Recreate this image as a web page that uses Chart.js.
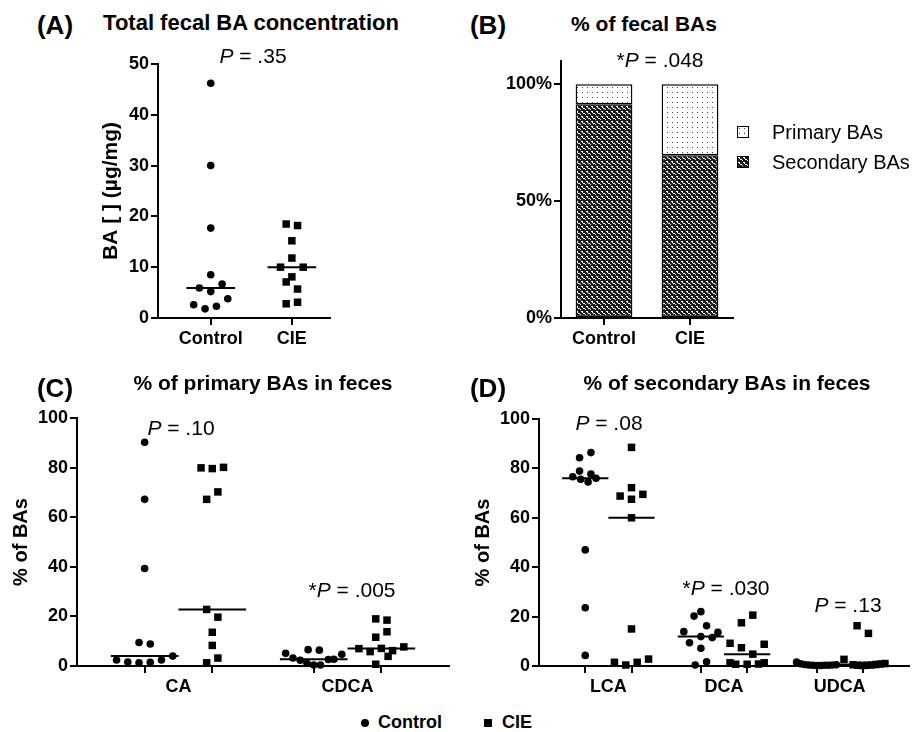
<!DOCTYPE html>
<html><head><meta charset="utf-8">
<script src="https://cdn.jsdelivr.net/npm/chart.js@4.4.1/dist/chart.umd.min.js"></script>
<style>
body{margin:0;background:#fff;width:921px;height:732px;position:relative;overflow:hidden;font-family:"Liberation Sans",Arial,sans-serif;color:#000}
canvas{position:absolute}
.t{position:absolute;white-space:nowrap;transform:translate(-50%,-50%);line-height:1}
.l{position:absolute;white-space:nowrap;transform:translate(0,-50%);line-height:1}
.lbl{font-weight:bold;font-size:26px}
.ttl{font-weight:bold;font-size:21px}
.p{font-size:21px}
.sw{position:absolute;width:12px;height:12px;box-sizing:border-box}
</style></head><body>
<canvas id="cA" width="260" height="320" style="left:90px;top:40px"></canvas>
<canvas id="cB" width="300" height="320" style="left:480px;top:40px"></canvas>
<canvas id="cC" width="460" height="310" style="left:0px;top:390px"></canvas>
<canvas id="cD" width="461" height="310" style="left:460px;top:390px"></canvas>

<div class="t lbl" style="left:55px;top:25px">(A)</div>
<div class="t ttl" style="left:251px;top:23px;font-size:22px">Total fecal BA concentration</div>
<div class="t p" style="left:253px;top:55px"><i>P</i> = .35</div>

<div class="t lbl" style="left:488px;top:25px">(B)</div>
<div class="t ttl" style="left:644px;top:23px">% of fecal BAs</div>
<div class="t p" style="left:660px;top:59px">*<i>P</i> = .048</div>
<canvas class="sw" id="swP" width="12" height="12" style="left:737px;top:126px"></canvas>
<div class="l" style="left:772px;top:132px;font-size:20px">Primary BAs</div>
<canvas class="sw" id="swS" width="12" height="12" style="left:737px;top:156px"></canvas>
<div class="l" style="left:772px;top:162px;font-size:20px">Secondary BAs</div>

<div class="t lbl" style="left:55px;top:388px">(C)</div>
<div class="t ttl" style="left:263px;top:382px">% of primary BAs in feces</div>
<div class="t p" style="left:181px;top:427px"><i>P</i> = .10</div>
<div class="t p" style="left:352px;top:589px">*<i>P</i> = .005</div>

<div class="t lbl" style="left:488px;top:388px">(D)</div>
<div class="t ttl" style="left:727px;top:382px">% of secondary BAs in feces</div>
<div class="t p" style="left:609px;top:422px"><i>P</i> = .08</div>
<div class="t p" style="left:726px;top:587px">*<i>P</i> = .030</div>
<div class="t p" style="left:848px;top:604px"><i>P</i> = .13</div>

<div style="position:absolute;left:361px;top:719px;width:8px;height:8px;border-radius:50%;background:#000"></div>
<div class="l" style="left:378px;top:722px;font-size:18px;font-weight:bold">Control</div>
<div style="position:absolute;left:484px;top:719px;width:8px;height:8px;background:#000"></div>
<div class="l" style="left:502px;top:722px;font-size:18px;font-weight:bold">CIE</div>

<script>
// ---------- DATA ----------
// Panel A: total fecal BA concentration (µg/mg)
const aLabels = ['Control', 'CIE'];
const aControl = [46.2, 30.0, 17.7, 8.5, 6.7, 5.9, 5.2, 3.8, 2.6, 2.3, 1.8];
const aCIE     = [18.5, 18.2, 15.2, 11.8, 10.0, 10.0, 8.1, 7.1, 5.7, 3.1, 2.8];
const aYTicks  = [0, 10, 20, 30, 40, 50];

// Panel B: % of fecal BAs
const bLabels    = ['Control', 'CIE'];
const bSecondary = [91.5, 69.7];
const bPrimary   = [8.5, 30.3];
const bYTicks    = [0, 50, 100];

// Panel C: % of primary BAs
const cLabels      = ['CA', 'CDCA'];
const caControl    = [90.2, 67.2, 39.3, 9.5, 8.9, 4.0, 2.4, 2.4, 1.6, 1.5, 1.3];
const caCIE        = [80.1, 79.9, 79.6, 70.2, 67.2, 22.8, 19.7, 13.6, 8.3, 3.2, 1.3];
const cdcaControl  = [6.6, 6.4, 5.1, 4.7, 3.2, 2.7, 2.6, 2.3, 1.1, 0.4, 0.4];
const cdcaCIE      = [19.0, 18.5, 13.8, 11.6, 7.7, 7.1, 7.0, 6.2, 5.8, 3.9, 0.7];
const pctTicks     = [0, 20, 40, 60, 80, 100];

// Panel D: % of secondary BAs
const dLabels      = ['LCA', 'DCA', 'UDCA'];
const lcaControl   = [86.4, 84.3, 78.9, 77.7, 76.6, 76.0, 75.6, 74.5, 47.0, 23.6, 4.3];
const lcaCIE       = [88.5, 72.2, 69.5, 68.8, 67.5, 60.0, 15.0, 2.8, 1.5, 1.5, 0.4];
const dcaControl   = [22.0, 20.2, 16.3, 13.9, 13.6, 11.9, 11.5, 9.4, 7.2, 1.7, 0.4];
const dcaCIE       = [20.6, 17.5, 9.2, 8.8, 7.4, 4.8, 1.3, 1.3, 0.8, 0.7, 0.7];
const udcaControl  = [1.6, 0.9, 0.6, 0.4, 0.3, 0.2, 0.2, 0.3, 0.3, 0.4, 0.5];
const udcaCIE      = [16.3, 13.2, 2.7, 1.0, 0.8, 0.6, 0.4, 0.3, 0.2, 0.3, 0.5];

// dot-plot lane indices (horizontal spread of overlapping points)
const aControlLane    = [0, 0, 0, 0, 2, -2, 0, 3, -3, 1, -1];
const aCIELane        = [-1, 1, 0, 0, -2, 2, 0, -1, 1, 1, -1];
const caControlLane   = [0, 0, 0, -1, 1, 5, -5, 3, -3, 1, -1];
const caCIELane       = [2, -2, 0, 1, -1, -1, 1, 0, 0, 1, -1];
const cdcaControlLane = [-1, 1, -5, 5, -3.7, 3.6, 2.6, -2.4, -1.2, 0, 1.2];
const cdcaCIELane     = [-1, 1, 1, -1, 4, 0, -4, 2, -2, 1.2, -1];
const lcaControlLane  = [1, -1, -1, 1, -2.2, 1.9, -0.8, 0.5, 0, 0, 0];
const lcaCIELane      = [0, 0, 2, -2, 0, 0, 0, 3, -3, 1, -1];
const dcaControlLane  = [0, -1.2, 1, -3, 3, 0, 2, -2, 0, 1, -1];
const dcaCIELane      = [1, -1, -3, 3, -1, 1, -3, 3, 2, -2, 0];
const udcaControlLane = [-3.5, -2.8, -2.1, -1.4, -0.7, 0, 0.7, 1.4, 2.1, 2.8, 3.5];
const udcaCIELane     = [-1, 1, -3.3, 3.9, 3.1, 2.3, 1.5, 0.7, -0.1, -0.9, -1.7];

// ---------- RENDER ----------
const FONT = '"Liberation Sans", Arial, sans-serif';
Chart.defaults.font.family = FONT;
Chart.defaults.color = '#000';

function median(arr) {
  const s = [...arr].sort((a, b) => a - b), n = s.length;
  return n % 2 ? s[(n - 1) / 2] : (s[n / 2 - 1] + s[n / 2]) / 2;
}
function pts(values, lanes, pos, laneW) {
  return values.map((v, i) => ({ x: pos + lanes[i] * laneW, y: v }));
}
function medLine(values, pos, half) {
  const m = median(values);
  return [{ x: pos - half, y: m }, { x: pos + half, y: m }];
}

function axisY(cfg, extra) {
  return Object.assign({
    min: 0, max: cfg.yMax,
    afterFit: s => { s.width = cfg.yWidth; },
    afterBuildTicks: s => { s.ticks = cfg.yTicks.map(v => ({ value: v })); },
    ticks: { padding: 2, font: { size: 18, weight: 'bold' }, callback: cfg.yFmt || (v => v) },
    grid: { drawOnChartArea: false, drawTicks: true, tickLength: 7, lineWidth: 2, color: '#000' },
    border: { color: '#000', width: 2 },
    title: cfg.yTitle ? { display: true, text: cfg.yTitle, font: { size: cfg.yTitleSize || 20, weight: 'bold' }, padding: { top: cfg.yTitlePad, bottom: 0 } } : { display: false }
  }, extra || {});
}

function makeScatter(id, cfg) {
  const datasets = [];
  cfg.groups.forEach(g => {
    datasets.push({ data: pts(g.ctl, g.ctlLane, g.pos[0], cfg.lane), pointStyle: 'circle', pointRadius: 3.8, backgroundColor: '#000', borderColor: '#000', borderWidth: 0, clip: false });
    datasets.push({ data: pts(g.cie, g.cieLane, g.pos[1], cfg.lane), pointStyle: 'rect', pointRadius: 5.3, backgroundColor: '#000', borderColor: '#000', borderWidth: 0, clip: false });
    datasets.push({ data: medLine(g.ctl, g.pos[0], cfg.half), showLine: true, pointRadius: 0, borderColor: '#000', borderWidth: 2, clip: false });
    datasets.push({ data: medLine(g.cie, g.pos[1], cfg.half), showLine: true, pointRadius: 0, borderColor: '#000', borderWidth: 2, clip: false });
  });
  const tickVals = [], labelAt = {};
  cfg.groups.forEach((g, i) => {
    if (cfg.groupLabels) {
      const c = (g.pos[0] + g.pos[1]) / 2;
      tickVals.push(g.pos[0], c, g.pos[1]);
      labelAt[c] = cfg.groupLabels[i];
    } else {
      tickVals.push(g.pos[0], g.pos[1]);
      labelAt[g.pos[0]] = cfg.colLabels[0];
      labelAt[g.pos[1]] = cfg.colLabels[1];
    }
  });
  const isLabelOnly = v => cfg.groupLabels && labelAt[v] !== undefined;
  new Chart(document.getElementById(id), {
    type: 'scatter',
    data: { datasets },
    options: {
      responsive: false, animation: false, devicePixelRatio: 1,
      layout: { padding: cfg.padding },
      plugins: { legend: { display: false }, tooltip: { enabled: false } },
      scales: {
        x: {
          type: 'linear', min: cfg.xMin, max: cfg.xMax,
          afterFit: s => { s.height = cfg.xHeight; },
          afterBuildTicks: s => { s.ticks = tickVals.map(v => ({ value: v })); },
          ticks: { autoSkip: false, maxRotation: 0, minRotation: 0, padding: 3, font: { size: 18, weight: 'bold' },
                   callback: v => labelAt[v] !== undefined ? labelAt[v] : '' },
          grid: { drawOnChartArea: false, drawTicks: true, tickLength: 7, lineWidth: 2,
                  color: ctx => (ctx.tick && isLabelOnly(ctx.tick.value)) ? 'rgba(0,0,0,0)' : '#000' },
          border: { color: '#000', width: 2 }
        },
        y: axisY(cfg)
      }
    }
  });
}

// Panel A
makeScatter('cA', {
  groups: [{ pos: [1, 2], ctl: aControl, ctlLane: aControlLane, cie: aCIE, cieLane: aCIELane }],
  colLabels: aLabels, lane: 0.07, half: 0.3,
  xMin: 0.35, xMax: 2.47, yMax: 50, yTicks: aYTicks,
  yWidth: 68, xHeight: 42, padding: { top: 24, right: 20, left: 0, bottom: 0 },
  yTitle: 'BA [ ] (\u00b5g/mg)', yTitlePad: 9, yTitleSize: 21
});

// Panel C
makeScatter('cC', {
  groups: [
    { pos: [1, 2], ctl: caControl, ctlLane: caControlLane, cie: caCIE, cieLane: caCIELane },
    { pos: [3.5, 4.5], ctl: cdcaControl, ctlLane: cdcaControlLane, cie: cdcaCIE, cieLane: cdcaCIELane }
  ],
  groupLabels: cLabels, lane: 0.083, half: 0.5,
  xMin: 0, xMax: 5.5, yMax: 100, yTicks: pctTicks,
  yWidth: 77, xHeight: 34, padding: { top: 28, right: 11, left: 0, bottom: 0 },
  yTitle: '% of BAs', yTitlePad: 9
});

// Panel D
makeScatter('cD', {
  groups: [
    { pos: [1, 2], ctl: lcaControl, ctlLane: lcaControlLane, cie: lcaCIE, cieLane: lcaCIELane },
    { pos: [3.5, 4.5], ctl: dcaControl, ctlLane: dcaControlLane, cie: dcaCIE, cieLane: dcaCIELane },
    { pos: [6, 7], ctl: udcaControl, ctlLane: udcaControlLane, cie: udcaCIE, cieLane: udcaCIELane }
  ],
  groupLabels: dLabels, lane: 0.123, half: 0.5,
  xMin: 0, xMax: 8, yMax: 100, yTicks: pctTicks,
  yWidth: 79, xHeight: 34, padding: { top: 29, right: 12, left: 0, bottom: 0 },
  yTitle: '% of BAs', yTitlePad: 11
});

// Panel B patterns
function tile(w, h, bg, fg, pix) {
  const c = document.createElement('canvas'); c.width = w; c.height = h;
  const g = c.getContext('2d'); g.fillStyle = bg; g.fillRect(0, 0, w, h);
  g.fillStyle = fg; pix.forEach(p => g.fillRect(p[0], p[1], 1, 1));
  return c;
}
const secTile = tile(5, 5, '#1a1a1a', '#fff', [[1, 1], [2, 1], [2, 2], [3, 3], [4, 3], [0, 4]]);
const priTile = tile(5, 5, '#fff', '#444', [[2, 2]]);
const bctx = document.getElementById('cB').getContext('2d');
const secPat = bctx.createPattern(secTile, 'repeat');
const priPat = bctx.createPattern(priTile, 'repeat');

function swatch(id, t) {
  const g = document.getElementById(id).getContext('2d');
  g.fillStyle = g.createPattern(t, 'repeat'); g.fillRect(0, 0, 12, 12);
  g.strokeStyle = '#000'; g.lineWidth = 1; g.strokeRect(0.5, 0.5, 11, 11);
}
swatch('swP', priTile);
swatch('swS', secTile);

new Chart(document.getElementById('cB'), {
  type: 'bar',
  data: {
    labels: bLabels,
    datasets: [
      { label: 'Secondary BAs', data: bSecondary, backgroundColor: secPat, borderColor: '#000', borderWidth: 1.5, borderSkipped: false },
      { label: 'Primary BAs', data: bPrimary, backgroundColor: priPat, borderColor: '#000', borderWidth: 1.5, borderSkipped: false }
    ]
  },
  options: {
    responsive: false, animation: false, devicePixelRatio: 1,
    layout: { padding: { top: 21, right: 47, left: 0, bottom: 0 } },
    datasets: { bar: { categoryPercentage: 1, barPercentage: 0.66 } },
    plugins: { legend: { display: false }, tooltip: { enabled: false } },
    scales: {
      x: {
        stacked: true,
        afterFit: s => { s.height = 42; },
        ticks: { padding: 3, font: { size: 18, weight: 'bold' }, maxRotation: 0 },
        grid: { offset: false, drawOnChartArea: false, drawTicks: true, tickLength: 7, lineWidth: 2, color: '#000' },
        border: { color: '#000', width: 2 }
      },
      y: axisY({ yMax: 110, yTicks: bYTicks, yWidth: 81, yFmt: v => v + '%' }, { stacked: true })
    }
  }
});
</script>
</body></html>
